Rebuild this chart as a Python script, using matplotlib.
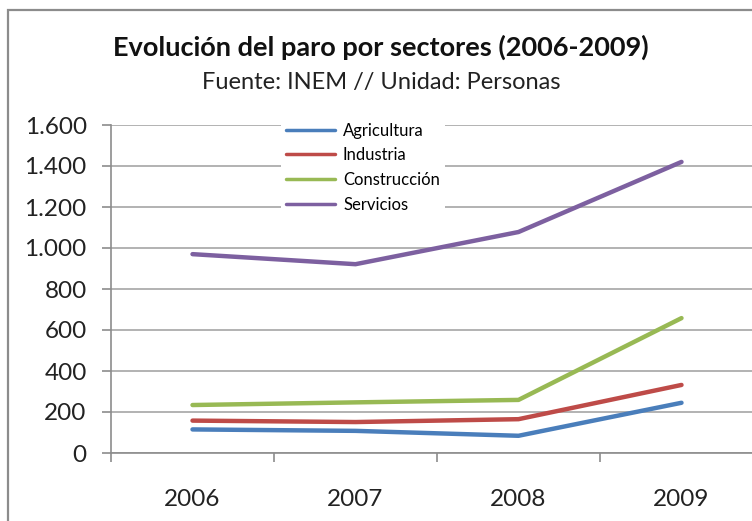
import numpy as np
import matplotlib
matplotlib.use("Agg")
import matplotlib.pyplot as plt
from matplotlib.ticker import FuncFormatter, FixedLocator
from matplotlib.patches import Rectangle

plt.rcParams['font.family'] = ['Lato', 'DejaVu Sans']

years = ["2006", "2007", "2008", "2009"]
agricultura = [115, 108, 84, 245]
industria = [158, 151, 165, 332]
construccion = [234, 247, 259, 658]
servicios = [970, 921, 1078, 1420]
series = ["Agricultura", "Industria", "Construcción", "Servicios"]
colors = ["#4A7EBB", "#BE4B48", "#98B954", "#7D60A0"]
yticks = [0, 200, 400, 600, 800, 1000, 1200, 1400, 1600]

W, H = 752, 521
fig = plt.figure(figsize=(W / 100, H / 100), dpi=100)

# outer chart border (cut by the image on right/bottom)
fig.patches.append(Rectangle((8 / W, -0.05), 1.2, 1 - 10 / H + 0.05, transform=fig.transFigure,
                             fill=False, edgecolor="#8c8c8c", lw=1.6))

ax = fig.add_axes([111 / W, 1 - 453 / H, 652 / W, 328 / H])
x = np.arange(len(years))
for vals, name, c in zip([agricultura, industria, construccion, servicios], series, colors):
    ax.plot(x, vals, color=c, lw=3.2, label=name, solid_capstyle="round", zorder=3)

ax.set_xlim(-0.5, 3.5)
ax.set_ylim(0, 1600)
ax.set_yticks(yticks)
ax.yaxis.set_major_formatter(FuncFormatter(lambda v, p: f"{int(v):,}".replace(",", ".")))
ax.grid(axis="y", color="#a6a6a6", lw=1.2)
ax.set_axisbelow(True)
ax.set_xticks(x)
ax.set_xticklabels(years)
ax.xaxis.set_minor_locator(FixedLocator([-0.5, 0.5, 1.5, 2.5]))
ax.tick_params(axis="x", which="major", length=0, pad=26, labelsize=17.5, colors="#222222")
ax.tick_params(axis="x", which="minor", length=6.5, color="#8c8c8c", width=1.2)
ax.tick_params(axis="y", length=6.5, color="#8c8c8c", width=1.2, labelsize=17.5, pad=11,
               labelcolor="#222222")
for s in ["top", "right"]:
    ax.spines[s].set_visible(False)
for s in ["left", "bottom"]:
    ax.spines[s].set_color("#8c8c8c")
    ax.spines[s].set_linewidth(1.2)

leg = ax.legend(loc="upper left", bbox_to_anchor=(162 / 652, 1.048), frameon=True, fontsize=12,
                handlelength=2.9, labelspacing=0.52, borderpad=0.3, handletextpad=0.5)
leg.get_frame().set_edgecolor("none")
leg.get_frame().set_facecolor("white")
leg.get_frame().set_alpha(1)
leg.get_frame().set_boxstyle("square", pad=0)
for line in leg.get_lines():
    line.set_linewidth(2.5)

fig.text(381 / W, 1 - 47 / H, "Evolución del paro por sectores (2006-2009)", ha="center", va="center",
         fontsize=19.5, fontweight="bold", color="#111111")
fig.text(381 / W, 1 - 82 / H, "Fuente: INEM // Unidad: Personas", ha="center", va="center",
         fontsize=17, color="#222222")

plt.savefig("out.png", dpi=100)
